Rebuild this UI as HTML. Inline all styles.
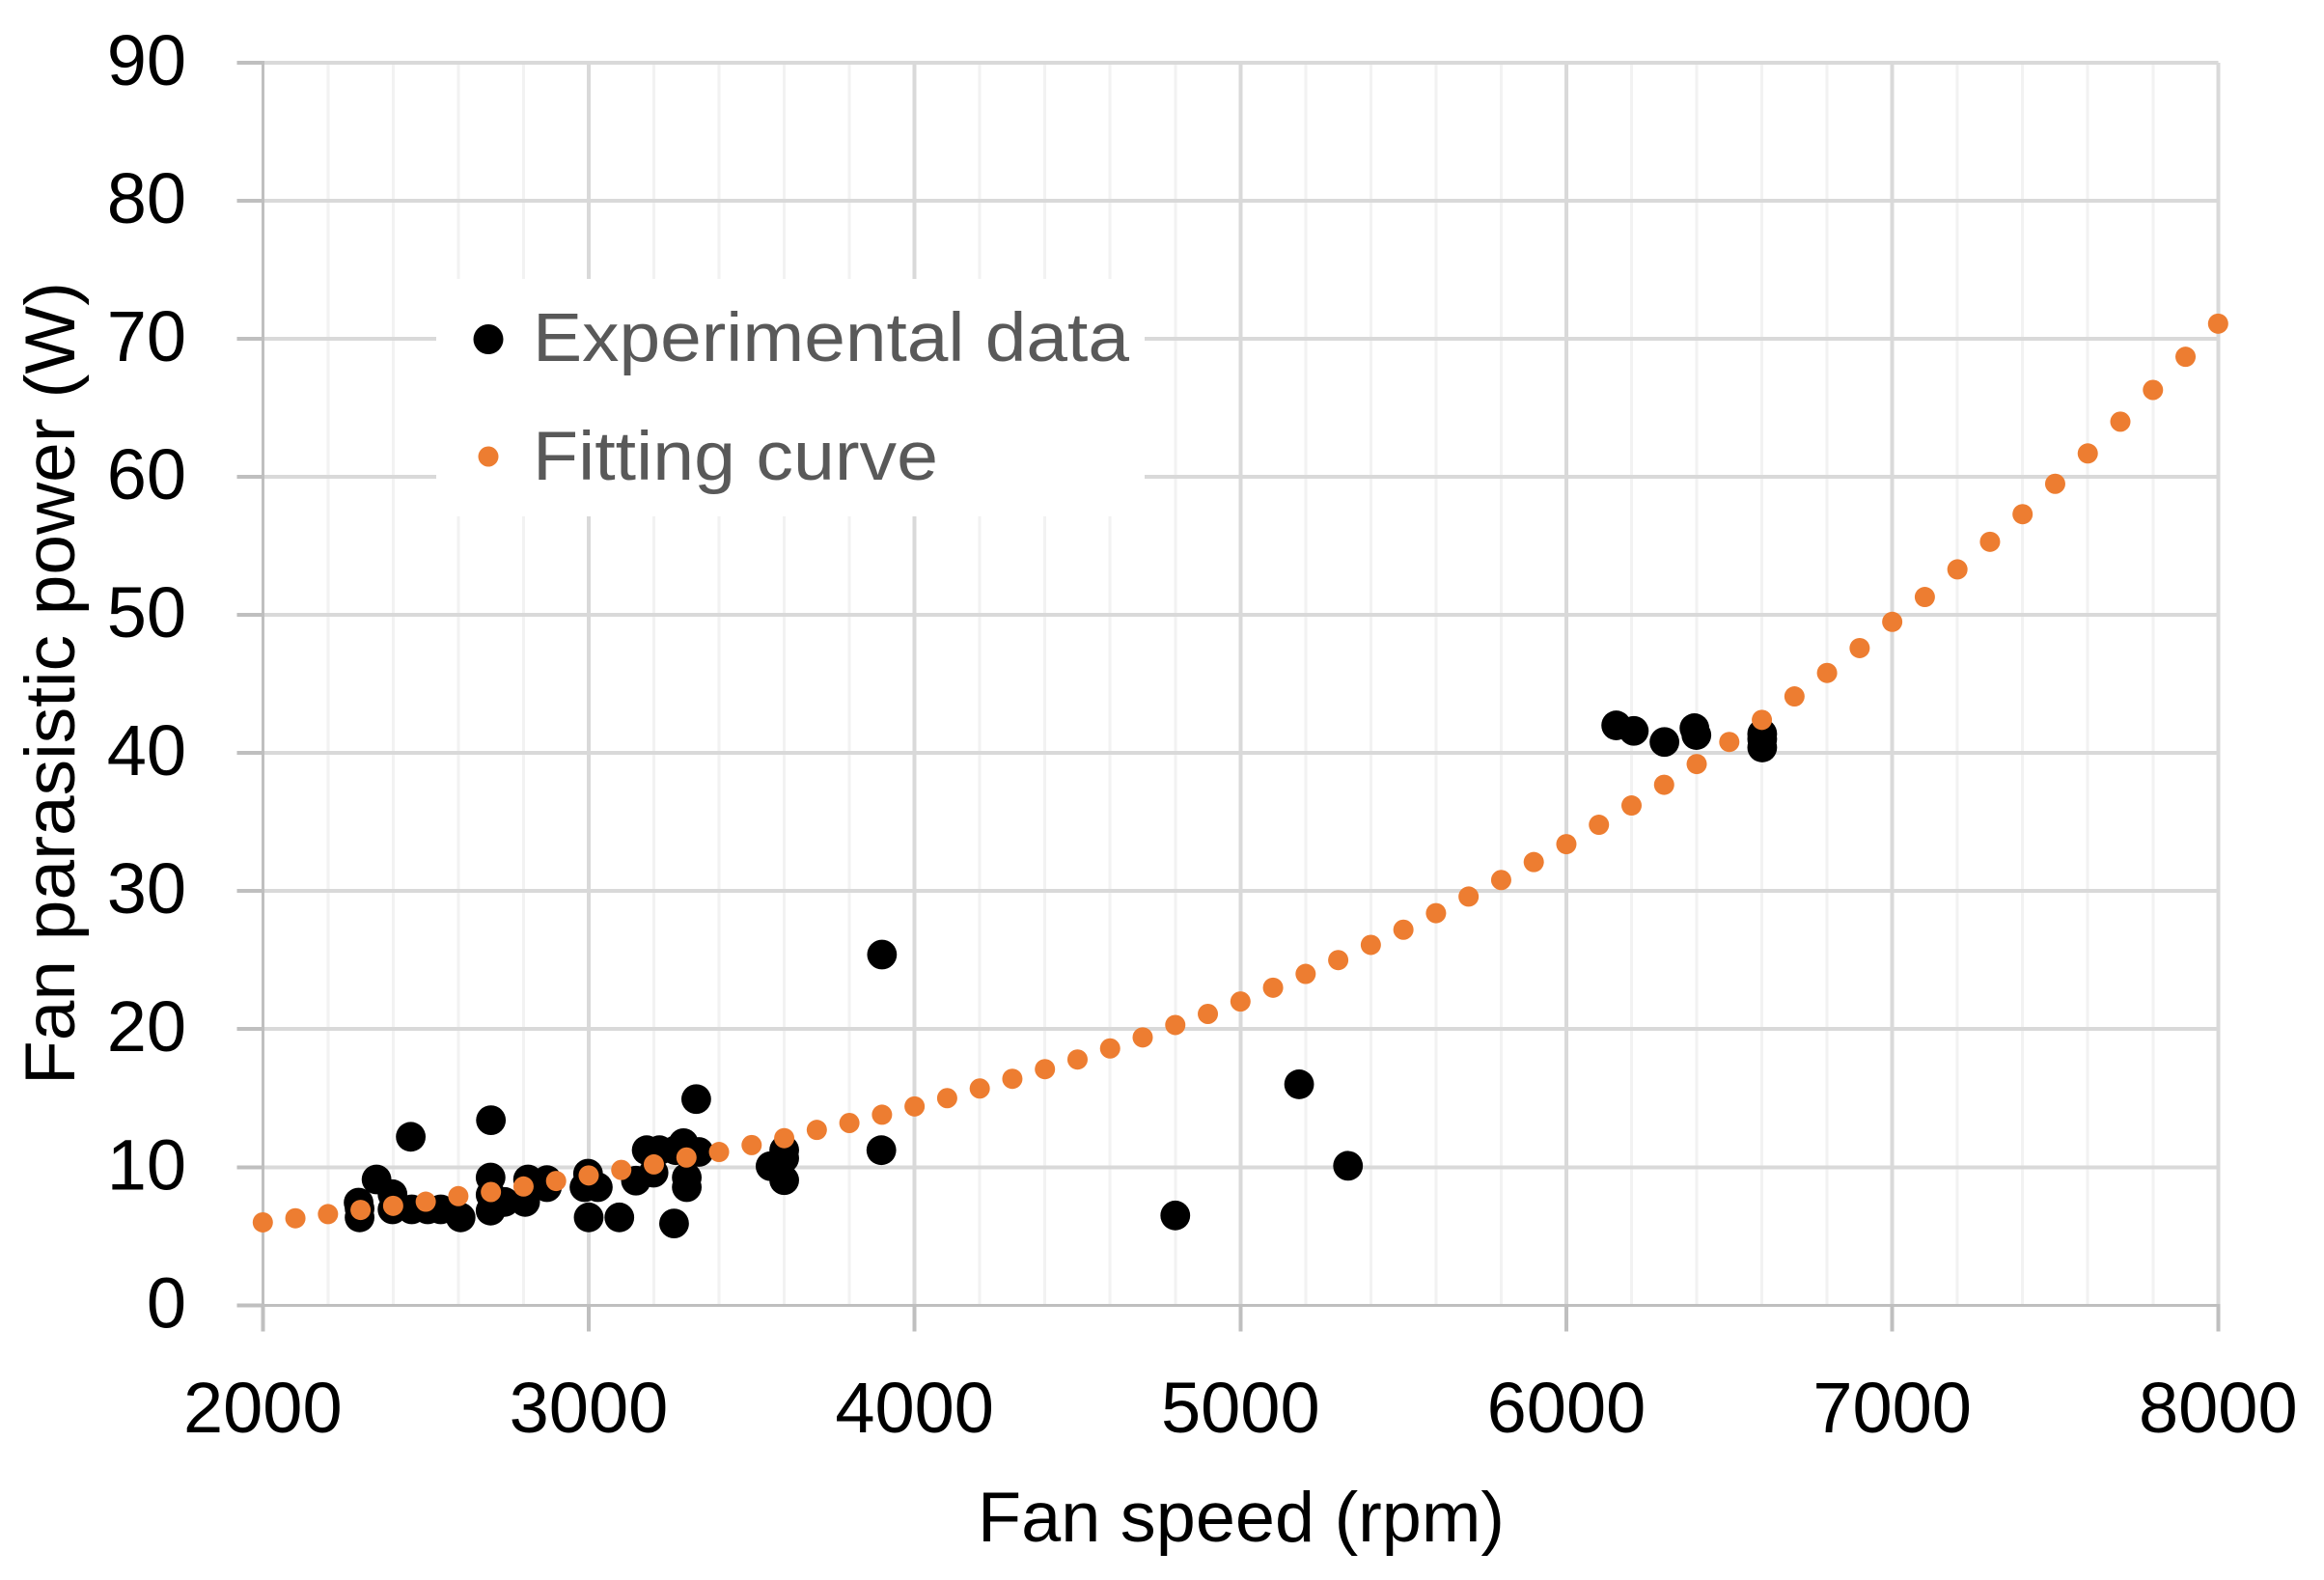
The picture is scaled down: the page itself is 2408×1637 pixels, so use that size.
<!DOCTYPE html>
<html lang="en">
<head>
<meta charset="utf-8">
<title>Fan parasitic power vs fan speed</title>
<style>
html,body{margin:0;padding:0;background:#fff;}
svg{display:block;}
text{font-family:"Liberation Sans",sans-serif;}
</style>
</head>
<body>
<svg id="chart" xmlns="http://www.w3.org/2000/svg" width="2408" height="1637" viewBox="0 0 2408 1637">
<rect x="0" y="0" width="2408" height="1637" fill="#ffffff"/>
<g id="grid" shape-rendering="crispEdges"></g>
<g id="axes" shape-rendering="crispEdges"></g>
<g id="ticks"></g>
<g id="legend">
<rect x="452" y="289" width="734" height="246" fill="#ffffff"/>
<circle cx="506" cy="351.5" r="15.5" fill="#000000"/>
<text x="552" y="374" font-size="71" fill="#595959" textLength="618" lengthAdjust="spacingAndGlyphs">Experimental data</text>
<circle cx="506" cy="473" r="10.5" fill="#ed7d31"/>
<text x="552" y="497" font-size="71" fill="#595959" textLength="420" lengthAdjust="spacingAndGlyphs">Fitting curve</text>
</g>
<g id="series-experimental"></g>
<g id="series-fit"></g>
<text x="1286" y="1597" font-size="73" fill="#000000" text-anchor="middle" textLength="546" lengthAdjust="spacingAndGlyphs">Fan speed (rpm)</text>
<text transform="translate(77,708) rotate(-90)" x="0" y="0" font-size="73" fill="#000000" text-anchor="middle" textLength="832" lengthAdjust="spacingAndGlyphs">Fan parasistic power (W)</text>
</svg>
<script>
const xTickLabels = [2000, 3000, 4000, 5000, 6000, 7000, 8000];
const yTickLabels = [0, 10, 20, 30, 40, 50, 60, 70, 80, 90];
const xMinorTicks = [2200, 2400, 2600, 2800, 3200, 3400, 3600, 3800, 4200, 4400, 4600, 4800, 5200, 5400, 5600, 5800, 6200, 6400, 6600, 6800, 7200, 7400, 7600, 7800];

const experimentalRpm = [2349, 2398, 2297, 2297, 2294, 2398, 2457, 2506, 2546, 2607,
  2699, 2699, 2699, 2742, 2805, 2814, 2872, 2872,
  2998, 2987, 3028, 3000, 3094,
  3330, 3145, 3178, 3217, 3199, 3291, 3267, 3338, 3301, 3301, 3262,
  3600, 3600, 3558, 3600, 3898, 2454, 2700,
  3900, 4800, 5180, 5330,
  6153, 6207, 6301, 6393, 6399, 6601, 6601, 6601];
const experimentalPower = [9.11, 8.04, 6.36, 7.0, 7.43, 6.94, 6.94, 6.94, 6.94, 6.36,
  9.25, 6.85, 8.0, 7.48, 7.48, 9.11, 9.06, 8.55,
  9.53, 8.55, 8.55, 6.36, 6.36,
  14.93, 9.02, 11.23, 11.23, 9.6, 11.74, 11.23, 11.1, 8.55, 9.25, 5.92,
  11.23, 9.06, 10.07, 10.65, 11.23, 12.2, 13.4,
  25.4, 6.5, 16.0, 10.1,
  42.0, 41.6, 40.8, 41.8, 41.3, 41.4, 40.4, 41.0];

const fitRpm = [2000, 2100, 2200, 2300, 2400, 2500, 2600, 2700, 2800, 2900, 3000, 3100, 3200, 3300, 3400, 3500, 3600, 3700, 3800, 3900,
  4000, 4100, 4200, 4300, 4400, 4500, 4600, 4700, 4800, 4900, 5000, 5100, 5200, 5300, 5400, 5500, 5600, 5700, 5800, 5900,
  6000, 6100, 6200, 6300, 6400, 6500, 6600, 6700, 6800, 6900, 7000, 7100, 7200, 7300, 7400, 7500, 7600, 7700, 7800, 7900, 8000];
const fitPower = [6.0, 6.3, 6.6, 6.9, 7.2, 7.5, 7.9, 8.2, 8.6, 9.0, 9.4, 9.8, 10.2, 10.7, 11.1, 11.6, 12.1, 12.7, 13.2, 13.8,
  14.4, 15.0, 15.7, 16.4, 17.1, 17.8, 18.6, 19.4, 20.3, 21.1, 22.0, 23.0, 24.0, 25.0, 26.1, 27.2, 28.4, 29.6, 30.8, 32.1,
  33.4, 34.8, 36.2, 37.7, 39.2, 40.8, 42.4, 44.1, 45.8, 47.6, 49.5, 51.3, 53.3, 55.3, 57.3, 59.5, 61.7, 64.0, 66.3, 68.7, 71.1];

const NS = 'http://www.w3.org/2000/svg';
const PX_LEFT = 272.3, PX_RIGHT = 2298.3, PX_TOP = 65, PX_BOTTOM = 1352.3;
const X_MIN = 2000, X_MAX = 8000, Y_MIN = 0, Y_MAX = 90;
function xScale(v) { return PX_LEFT + (v - X_MIN) / (X_MAX - X_MIN) * (PX_RIGHT - PX_LEFT); }
function yScale(v) { return PX_BOTTOM - (v - Y_MIN) / (Y_MAX - Y_MIN) * (PX_BOTTOM - PX_TOP); }
function makeLine(parent, x1, y1, x2, y2, color, width) {
  const el = document.createElementNS(NS, 'line');
  el.setAttribute('x1', x1);
  el.setAttribute('y1', y1);
  el.setAttribute('x2', x2);
  el.setAttribute('y2', y2);
  el.setAttribute('stroke', color);
  el.setAttribute('stroke-width', width);
  parent.appendChild(el);
  return el;
}
function makeDot(parent, cx, cy, r, color) {
  const el = document.createElementNS(NS, 'circle');
  el.setAttribute('cx', cx);
  el.setAttribute('cy', cy);
  el.setAttribute('r', r);
  el.setAttribute('fill', color);
  parent.appendChild(el);
  return el;
}
function makeLabel(parent, x, y, anchor, content) {
  const el = document.createElementNS(NS, 'text');
  el.setAttribute('x', x);
  el.setAttribute('y', y);
  el.setAttribute('font-size', '74');
  el.setAttribute('fill', '#000000');
  el.setAttribute('text-anchor', anchor);
  el.textContent = content;
  parent.appendChild(el);
  return el;
}
const grid = document.getElementById('grid');
const axes = document.getElementById('axes');
const ticks = document.getElementById('ticks');
const expGroup = document.getElementById('series-experimental');
const fitGroup = document.getElementById('series-fit');

xMinorTicks.forEach(function (v) {
  const el = makeLine(grid, xScale(v), PX_TOP, xScale(v), PX_BOTTOM, '#f2f2f2', 3);
  
  
});
yTickLabels.slice(1).forEach(function (v) {
  const el = makeLine(grid, PX_LEFT, yScale(v), PX_RIGHT, yScale(v), '#d9d9d9', 4);
  
  
});
xTickLabels.slice(1).forEach(function (v) {
  const el = makeLine(grid, xScale(v), PX_TOP, xScale(v), PX_BOTTOM, '#d9d9d9', 4);
  
  
});

const yAxisLine = makeLine(axes, PX_LEFT, PX_TOP - 2, PX_LEFT, PX_BOTTOM + 2, '#bfbfbf', 3);


const xAxisLine = makeLine(axes, PX_LEFT, PX_BOTTOM, PX_RIGHT + 2, PX_BOTTOM, '#bfbfbf', 3);



xTickLabels.forEach(function (v) {
  const tick = makeLine(axes, xScale(v), PX_BOTTOM, xScale(v), PX_BOTTOM + 27, '#bfbfbf', 4);
  
  
  const label = makeLabel(ticks, xScale(v), 1484, 'middle', String(v));
  
  
});
yTickLabels.forEach(function (v) {
  const tick = makeLine(axes, PX_LEFT - 27, yScale(v), PX_LEFT, yScale(v), '#bfbfbf', 4);
  
  
  const label = makeLabel(ticks, 193, yScale(v) + 23, 'end', String(v));
  
  
});

experimentalRpm.forEach(function (rpm, i) {
  const dot = makeDot(expGroup, xScale(rpm), yScale(experimentalPower[i]), 15.4, '#000000');
  
  
});
fitRpm.forEach(function (rpm, i) {
  const dot = makeDot(fitGroup, xScale(rpm), yScale(fitPower[i]), 10.5, '#ed7d31');
  
  
});
</script>
</body>
</html>
